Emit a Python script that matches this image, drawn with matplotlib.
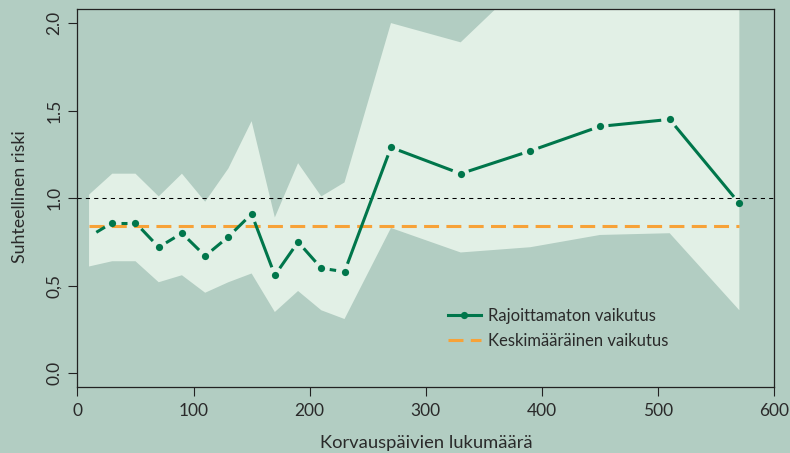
import numpy as np
import matplotlib
matplotlib.use('Agg')
import matplotlib.pyplot as plt
from matplotlib.lines import Line2D

# korvauspäivät ja suhteellinen riski
days = [10, 30, 50, 70, 90, 110, 130, 150, 170, 190, 210, 230, 270, 330, 390, 450, 510, 570]
risk = [0.78, 0.86, 0.86, 0.72, 0.80, 0.67, 0.78, 0.91, 0.56, 0.75, 0.60, 0.58,
        1.29, 1.14, 1.27, 1.41, 1.45, 0.97]
upper = [1.02, 1.14, 1.14, 1.01, 1.14, 0.98, 1.17, 1.44, 0.89, 1.20, 1.01, 1.09,
         2.00, 1.89, 2.27, 2.60, 2.90, 3.20]
lower = [0.61, 0.64, 0.64, 0.52, 0.56, 0.46, 0.52, 0.57, 0.35, 0.47, 0.36, 0.31,
         0.83, 0.69, 0.72, 0.79, 0.80, 0.36]
mean_effect = 0.84

xticks = [0, 100, 200, 300, 400, 500, 600]
yticks = [0.0, 0.5, 1.0, 1.5, 2.0]
ytick_labels = ['0.0', '0,5', '1.0', '1.5', '2.0']

bg = '#b2cdc2'
band = '#e2f0e6'
green = '#00764b'
orange = '#f7a238'
txt = '#2a2a2a'

plt.rcParams['font.family'] = ['Lato', 'DejaVu Sans']

fig = plt.figure(figsize=(7.9, 4.53), dpi=100, facecolor=bg)
ax = fig.add_axes([0.098, 0.145, 0.882, 0.835])
ax.set_facecolor(bg)
ax.set_xlim(0, 600)
ax.set_ylim(-0.08, 2.08)

# luottamusväli
ax.fill_between(days, lower, upper, color=band, lw=0, zorder=1)
ax.axhline(1.0, color='black', lw=0.75, ls=(0, (4, 4)), zorder=2)
ax.hlines(mean_effect, days[0], days[-1], color=orange, lw=2.2,
          linestyles=[(0, (4.9, 2.4))], zorder=3)

# viiva katkoilla pisteiden ympärillä (R:n type="b")
pts = ax.transData.transform(np.column_stack([days, risk]))
inv = ax.transData.inverted()
gap = 8.5
for p0, p1 in zip(pts[:-1], pts[1:]):
    d = p1 - p0
    L = np.hypot(d[0], d[1])
    if L <= 2 * gap:
        continue
    u = d / L
    seg = inv.transform(np.array([p0 + u * gap, p1 - u * gap]))
    ax.plot(seg[:, 0], seg[:, 1], color=green, lw=2.2, solid_capstyle='butt', zorder=4)
ax.plot(days[1:], risk[1:], 'o', color=green, ms=5.2, mew=0, zorder=5)

ax.set_xticks(xticks)
ax.set_xticklabels([str(x) for x in xticks])
ax.set_yticks(yticks)
ax.set_yticklabels(ytick_labels, rotation=90, va='center')
ax.tick_params(length=6.5, width=0.8, color='#222222', labelcolor=txt, labelsize=12.5)
ax.tick_params(axis='x', pad=5)
ax.tick_params(axis='y', pad=4.5)
for s in ax.spines.values():
    s.set_color('#222222')
    s.set_linewidth(0.9)

fig.text(426 / 790, 1 - 447.7 / 453, 'Korvauspäivien lukumäärä', ha='center',
         va='baseline', fontsize=13.2, color=txt)
fig.text(20 / 790, 1 - 197 / 453, 'Suhteellinen riski', ha='center', va='center',
         rotation=90, fontsize=12.8, color=txt)

handles = [Line2D([], [], color=green, lw=2.2, marker='o', ms=5.2, mew=0),
           Line2D([], [], color=orange, lw=2.2, ls=(0, (4.9, 2.4)))]
ax.legend(handles, ['Rajoittamaton vaikutus', 'Keskimääräinen vaikutus'],
          loc='upper left', bbox_to_anchor=((448 - 77.5) / 697, (387.3 - 308) / 378.3),
          frameon=False, fontsize=12, handlelength=2.0, handletextpad=0.4,
          labelspacing=0.55, borderpad=0, borderaxespad=0, labelcolor=txt)

fig.savefig('out.png', dpi=100, facecolor=bg)
